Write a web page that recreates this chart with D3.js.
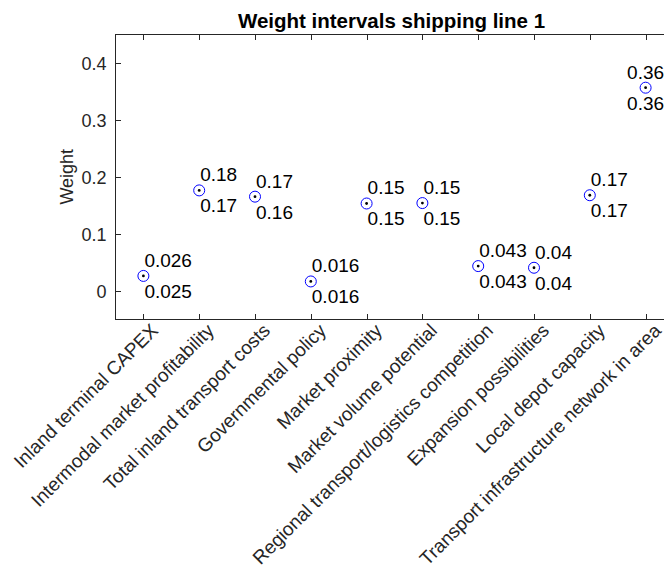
<!DOCTYPE html>
<html>
<head>
  <meta charset="utf-8">
  <script src="https://cdn.jsdelivr.net/npm/d3@7"></script>
  <style>
    body { margin:0; background:#fff; }
    text { font-family: "Liberation Sans", Arial, Helvetica, sans-serif; fill:#262626; }
    .title { font-weight:700; font-size:20.5px; fill:#000; }
    .tick-label { font-size:18px; }
    .x-label { font-size:19px; }
    .val-label { font-size:19px; fill:#000; }
    .axis-line { stroke:#262626; stroke-width:1; fill:none; shape-rendering:crispEdges; }
  </style>
</head>
<body>
<script>
  // criteria on the x axis
  var criteria = [
    "Inland terminal CAPEX",
    "Intermodal market profitability",
    "Total inland transport costs",
    "Governmental policy",
    "Market proximity",
    "Market volume potential",
    "Regional transport/logistics competition",
    "Expansion possibilities",
    "Local depot capacity",
    "Transport infrastructure network in area"
  ];
  // interval bounds of the weights
  var upper = [0.0262, 0.178, 0.167, 0.0162, 0.1535, 0.1545, 0.0432, 0.0403, 0.168, 0.357];
  var lower = [0.0252, 0.174, 0.163, 0.0158, 0.1525, 0.1530, 0.0428, 0.0398, 0.167, 0.356];
  var yTicks = [0, 0.1, 0.2, 0.3, 0.4];

  var W = 664, H = 567;
  var margin = {top: 34.5, left: 115.5};
  var plotW = 558, plotH = 284.5;

  var svg = d3.select("body").append("svg")
      .attr("width", W)
      .attr("height", H);

  var x = d3.scaleLinear()
      .domain([0.5, 10.5])
      .range([margin.left, margin.left + plotW]);

  var y = d3.scaleLinear()
      .domain([-0.05, 0.45])
      .range([margin.top + plotH, margin.top]);

  var data = criteria.map((c, i) => ({name: c, i: i + 1, lo: lower[i], hi: upper[i], mid: (lower[i] + upper[i]) / 2}));

  var fmt = d3.format(".2");
  var tickLen = 5.5;
  var x0 = margin.left, x1 = margin.left + plotW, y0 = margin.top, y1 = margin.top + plotH;

  // box
  svg.append("rect")
      .attr("class", "axis-line")
      .attr("x", x0).attr("y", y0)
      .attr("width", plotW).attr("height", plotH);

  // y ticks (left + right, inward)
  var yt = svg.append("g");
  yTicks.forEach(t => {
    var yy = Math.round(y(t)) + 0.5;
    yt.append("line").attr("class", "axis-line")
      .attr("x1", x0).attr("x2", x0 + tickLen).attr("y1", yy).attr("y2", yy);
    yt.append("line").attr("class", "axis-line")
      .attr("x1", x1).attr("x2", x1 - tickLen).attr("y1", yy).attr("y2", yy);
    yt.append("text")
      .attr("class", "tick-label")
      .attr("x", x0 - 9)
      .attr("y", yy)
      .attr("dy", "0.35em")
      .attr("text-anchor", "end")
      .text(t === 0 ? "0" : d3.format(".1f")(t));
  });

  // x ticks (bottom + top, inward)
  var xt = svg.append("g");
  data.forEach(d => {
    var xx = Math.round(x(d.i)) + 0.5;
    xt.append("line").attr("class", "axis-line")
      .attr("x1", xx).attr("x2", xx).attr("y1", y1).attr("y2", y1 - tickLen);
    xt.append("line").attr("class", "axis-line")
      .attr("x1", xx).attr("x2", xx).attr("y1", y0).attr("y2", y0 + tickLen);
    xt.append("text")
      .attr("class", "x-label")
      .attr("text-anchor", "end")
      .attr("transform", "translate(" + (xx + 11) + "," + (y1 + 8) + ") rotate(-45)")
      .attr("dy", "0.35em")
      .text(d.name);
  });

  // y label
  svg.append("text")
      .attr("class", "tick-label")
      .attr("text-anchor", "middle")
      .attr("transform", "translate(" + 73 + "," + (y0 + plotH / 2) + ") rotate(-90)")
      .text("Weight");

  // title
  svg.append("text")
      .attr("class", "title")
      .attr("x", x0 + plotW / 2 - 3)
      .attr("y", 28)
      .attr("text-anchor", "middle")
      .text("Weight intervals shipping line 1");

  // markers
  var pts = svg.append("g");
  pts.selectAll("circle.o")
    .data(data).enter().append("circle")
      .attr("class", "o")
      .attr("cx", d => x(d.i))
      .attr("cy", d => y(d.mid))
      .attr("r", 5.5)
      .attr("fill", "none")
      .attr("stroke", "#0000ff")
      .attr("stroke-width", 1);
  pts.selectAll("circle.dot")
    .data(data).enter().append("circle")
      .attr("class", "dot")
      .attr("cx", d => x(d.i))
      .attr("cy", d => y(d.mid))
      .attr("r", 1.4)
      .attr("fill", "#000");

  // value labels (the last one is centred so it stays inside the page)
  var last = data.length;
  pts.selectAll("text.hi")
    .data(data).enter().append("text")
      .attr("class", "val-label")
      .attr("x", d => d.i === last ? x(d.i) : x(d.i) + 1)
      .attr("text-anchor", d => d.i === last ? "middle" : "start")
      .attr("y", d => y(d.mid) - 9)
      .text(d => fmt(d.hi));
  pts.selectAll("text.lo")
    .data(data).enter().append("text")
      .attr("class", "val-label")
      .attr("x", d => d.i === last ? x(d.i) : x(d.i) + 1)
      .attr("text-anchor", d => d.i === last ? "middle" : "start")
      .attr("y", d => y(d.mid) + 22)
      .text(d => fmt(d.lo));
</script>
</body>
</html>
